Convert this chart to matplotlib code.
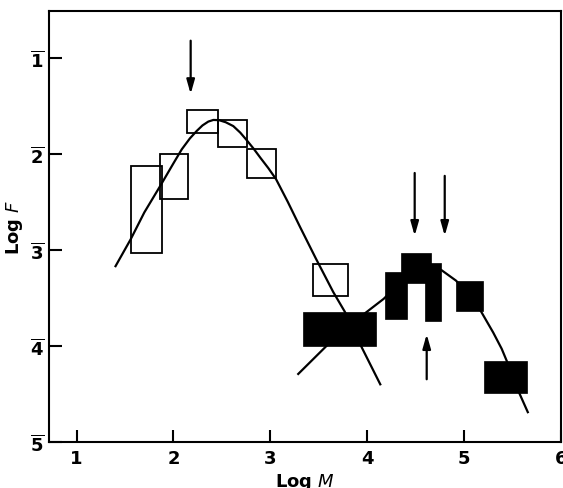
import matplotlib
matplotlib.use("Agg")
import matplotlib.pyplot as plt

plt.rcParams["mathtext.fontset"] = "dejavusans"

# ---- data ----
# open (hollow) boxes: x0, x1, y0, y1  (Log M range, Log F range)
open_x0 = [1.56, 1.866, 2.143, 2.46, 2.756, 3.444]
open_x1 = [1.88, 2.147, 2.46, 2.756, 3.06, 3.80]
open_y0 = [2.13, 2.00, 1.545, 1.65, 1.95, 3.15]
open_y1 = [3.03, 2.47, 1.78, 1.93, 2.255, 3.48]

# filled boxes
fill_x0 = [3.34, 4.18, 4.35, 4.60, 4.916, 5.21]
fill_x1 = [4.088, 4.41, 4.655, 4.765, 5.198, 5.65]
fill_y0 = [3.646, 3.235, 3.03, 3.14, 3.32, 4.156]
fill_y1 = [4.00, 3.72, 3.34, 3.74, 3.64, 4.485]

# fitted curves
curve1_x = [1.397, 1.559, 1.70, 1.865, 2.00, 2.086, 2.17, 2.24, 2.30, 2.36, 2.412,
            2.47, 2.54, 2.618, 2.69, 2.756, 2.83, 2.90, 2.98, 3.059, 3.18, 3.306,
            3.47, 3.65, 3.77, 3.936, 4.14]
curve1_y = [3.18, 2.89, 2.61, 2.333, 2.10, 1.954, 1.84, 1.763, 1.705, 1.665, 1.648,
            1.650, 1.672, 1.712, 1.780, 1.858, 1.950, 2.045, 2.150, 2.264, 2.50, 2.76,
            3.09, 3.44, 3.646, 4.00, 4.41]
curve2_x = [3.28, 3.58, 3.80, 3.995, 4.17, 4.30, 4.45, 4.60, 4.765, 4.916, 5.05,
            5.174, 5.30, 5.388, 5.44, 5.50, 5.567, 5.662]
curve2_y = [4.30, 4.00, 3.80, 3.646, 3.51, 3.38, 3.24, 3.17, 3.21, 3.32, 3.46,
            3.64, 3.86, 4.03, 4.156, 4.31, 4.485, 4.70]

# arrows: x, tail y, head y
arrow_x = [2.178, 4.49, 4.80, 4.614]
arrow_tail = [0.823, 2.20, 2.23, 4.347]
arrow_head = [1.378, 2.854, 2.854, 3.878]

xticks = [1, 2, 3, 4, 5, 6]
xtick_labels = ["1", "2", "3", "4", "5", "6"]
yticks = [1, 2, 3, 4, 5]
ytick_labels = [r"$\mathbf{\overline{1}}$", r"$\mathbf{\overline{2}}$",
                r"$\mathbf{\overline{3}}$", r"$\mathbf{\overline{4}}$",
                r"$\mathbf{\overline{5}}$"]

# ---- figure ----
fig = plt.figure(figsize=(5.63, 4.89), dpi=100)
ax = fig.add_axes([49 / 563, 1 - 443 / 489, 512 / 563, 431 / 489])
ax.set_xlim(0.716, 6.0)
ax.set_ylim(5.0, 0.514)

for x0, x1, y0, y1 in zip(open_x0, open_x1, open_y0, open_y1):
    ax.add_patch(plt.Rectangle((x0, y0), x1 - x0, y1 - y0, fill=False,
                               edgecolor="black", linewidth=1.3, zorder=2))

ax.plot(curve1_x, curve1_y, color="black", lw=1.6, zorder=3,
        solid_joinstyle="round", solid_capstyle="butt")
ax.plot(curve2_x, curve2_y, color="black", lw=1.6, zorder=3,
        solid_joinstyle="round", solid_capstyle="butt")

for x0, x1, y0, y1 in zip(fill_x0, fill_x1, fill_y0, fill_y1):
    ax.add_patch(plt.Rectangle((x0, y0), x1 - x0, y1 - y0, facecolor="black",
                               edgecolor="black", linewidth=0.5, zorder=4))

for x, yt, yh in zip(arrow_x, arrow_tail, arrow_head):
    ax.annotate("", xy=(x, yh), xytext=(x, yt),
                arrowprops=dict(arrowstyle="-|>,head_length=0.6,head_width=0.17",
                                color="black", lw=1.6, mutation_scale=14,
                                shrinkA=0, shrinkB=0), zorder=5)

for s in ax.spines.values():
    s.set_linewidth(1.5)

ax.set_xticks(xticks)
ax.set_xticklabels(xtick_labels)
ax.set_yticks(yticks)
ax.set_yticklabels(ytick_labels)
ax.tick_params(direction="in", length=9, width=1.5, labelsize=13, pad=3)
ax.tick_params(axis="x", pad=5)
for lab in ax.get_xticklabels() + ax.get_yticklabels():
    lab.set_fontweight("bold")

ax.set_xlabel("Log $\\mathit{M}$", fontsize=13, fontweight="bold", labelpad=3)
ax.set_ylabel("Log $\\mathit{F}$", fontsize=13, fontweight="bold", labelpad=4)

fig.savefig("out.png", dpi=100)
